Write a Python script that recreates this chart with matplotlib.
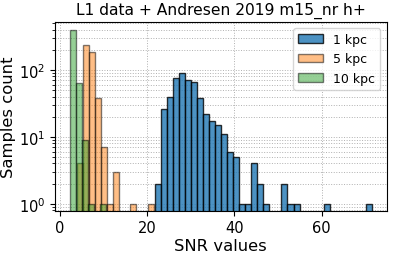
import numpy as np
import matplotlib
matplotlib.use('Agg')
import matplotlib.pyplot as plt

# bin edges (left edge + width) and counts
blue_start, blue_width = 21.79, 1.38
blue_counts = [2, 26, 40, 75, 89, 70, 66, 38, 22, 17, 15, 11, 6, 5, 1, 1, 4, 2,
               1, 0, 0, 2, 1, 1, 0, 0, 0, 0, 1, 0, 0, 0, 0, 0, 0, 1]

orange_start, orange_width = 3.90, 1.36
orange_counts = [4, 239, 186, 38, 7, 1, 3, 0, 0, 1, 0, 0, 1]

green_start, green_width = 2.36, 1.37
green_counts = [395, 63, 9, 1, 0, 1]

labels = ['1 kpc', '5 kpc', '10 kpc']


def edges(start, width, counts):
    return start + width * np.arange(len(counts) + 1)


fig = plt.figure(figsize=(3.93, 2.55), dpi=100)
ax = fig.add_axes([0.14, 0.17, 0.844, 0.74])

series = [(blue_start, blue_width, blue_counts, 'tab:blue', 0.8),
          (orange_start, orange_width, orange_counts, 'tab:orange', 0.5),
          (green_start, green_width, green_counts, 'tab:green', 0.5)]

for (start, width, counts, color, alpha), lab in zip(series, labels):
    e = edges(start, width, counts)
    centers = (e[:-1] + e[1:]) / 2
    ax.hist(centers, bins=e, weights=counts, log=True, color=color,
            alpha=alpha, edgecolor='black', linewidth=1.0, label=lab)

ax.set_yscale('log')
ax.set_ylim(0.79, 520)
ax.set_xlim(-1.15, 74.9)
ax.set_xticks([0, 20, 40, 60])
ax.grid(which='both', linestyle=':', color='#b0b0b0', linewidth=0.7)
ax.set_axisbelow(True)
ax.tick_params(labelsize=10.5)
ax.set_xlabel('SNR values', fontsize=11.8, labelpad=2)
ax.set_ylabel('Samples count', fontsize=11.8, labelpad=2)
ax.set_title('L1 data + Andresen 2019 m15_nr h+', fontsize=11.2)
ax.legend(loc='upper right', fontsize=9)

fig.savefig('out.png', dpi=100)
